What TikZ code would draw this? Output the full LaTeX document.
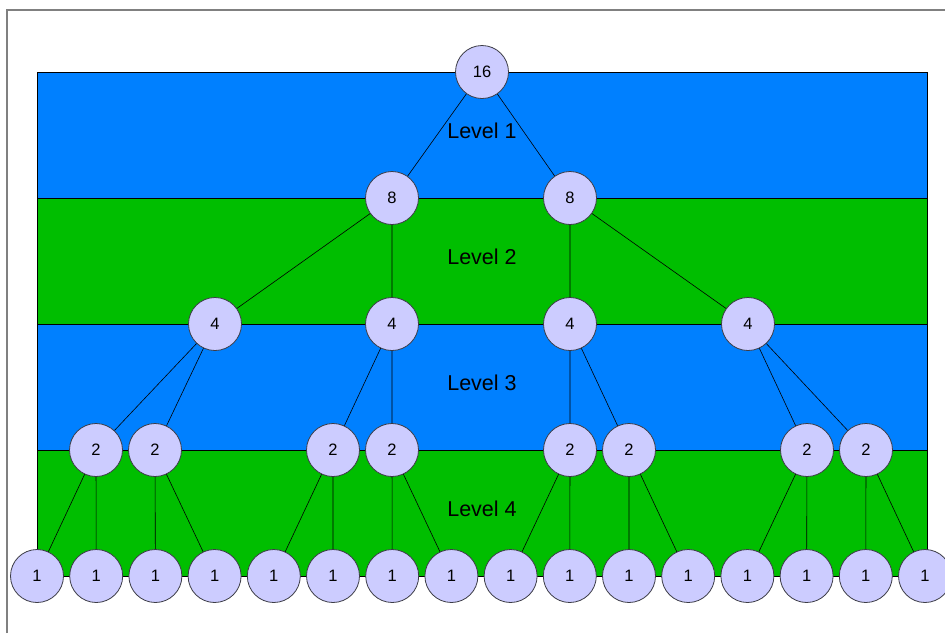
\documentclass[tikz,border=0pt]{standalone}
\usepackage{fontspec}
\setmainfont{Liberation Sans}
\definecolor{bandblue}{RGB}{0,128,255}
\definecolor{bandgreen}{RGB}{0,190,0}
\definecolor{nodefill}{RGB}{204,204,255}
\definecolor{nodeline}{RGB}{60,60,70}
\definecolor{framegray}{RGB}{128,128,128}
\begin{document}
\begin{tikzpicture}[x=1pt,y=-1pt,
  tnode/.style={circle,draw=nodeline,line width=0.8pt,fill=nodefill,minimum size=53pt,inner sep=0pt,font=\fontsize{16.5}{16.5}\selectfont},
  band/.style={draw=black,line width=0.6pt},
  edge/.style={draw=black,line width=0.6pt},
  levellabel/.style={font=\fontsize{21.5}{21.5}\selectfont}]
\useasboundingbox (0,0) rectangle (945,633);
% outer frame (top and left edges)
\draw[framegray,line width=1.6pt] (7,633) -- (7,10) -- (945,10);
% level bands
\filldraw[band,fill=bandblue]  (37,72)  rectangle (927,198);
\filldraw[band,fill=bandgreen] (37,198) rectangle (927,324);
\filldraw[band,fill=bandblue]  (37,324) rectangle (927,450);
\filldraw[band,fill=bandgreen] (37,450) rectangle (927,576);
% level labels
\node[levellabel] (l1) at (482,131) {Level 1};
\node[levellabel] (l2) at (482,257) {Level 2};
\node[levellabel] (l3) at (482,383) {Level 3};
\node[levellabel] (l4) at (482,509) {Level 4};
% tree nodes
\node[tnode] (r) at (482,72) {16};
\node[tnode] (a1) at (392,198) {8};
\node[tnode] (a2) at (570,198) {8};
\node[tnode] (b1) at (215,324) {4};
\node[tnode] (b2) at (392,324) {4};
\node[tnode] (b3) at (570,324) {4};
\node[tnode] (b4) at (748,324) {4};
\node[tnode] (c1) at (96,450) {2};
\node[tnode] (c2) at (155,450) {2};
\node[tnode] (c3) at (333,450) {2};
\node[tnode] (c4) at (392,450) {2};
\node[tnode] (c5) at (570,450) {2};
\node[tnode] (c6) at (629,450) {2};
\node[tnode] (c7) at (807,450) {2};
\node[tnode] (c8) at (866,450) {2};
\foreach \i in {1,...,16} {
  \pgfmathsetmacro{\xx}{37+(\i-1)*59.2}
  \node[tnode] (d\i) at (\xx,576) {1};
}
% connectors
\path[edge] (r) -- (a1) (r) -- (a2);
\path[edge] (a1) -- (b1) (a1) -- (b2) (a2) -- (b3) (a2) -- (b4);
\path[edge] (b1) -- (c1) (b1) -- (c2) (b2) -- (c3) (b2) -- (c4)
            (b3) -- (c5) (b3) -- (c6) (b4) -- (c7) (b4) -- (c8);
\path[edge] (c1) -- (d1) (c1) -- (d2) (c2) -- (d3) (c2) -- (d4)
            (c3) -- (d5) (c3) -- (d6) (c4) -- (d7) (c4) -- (d8)
            (c5) -- (d9) (c5) -- (d10) (c6) -- (d11) (c6) -- (d12)
            (c7) -- (d13) (c7) -- (d14) (c8) -- (d15) (c8) -- (d16);
\end{tikzpicture}
\end{document}
